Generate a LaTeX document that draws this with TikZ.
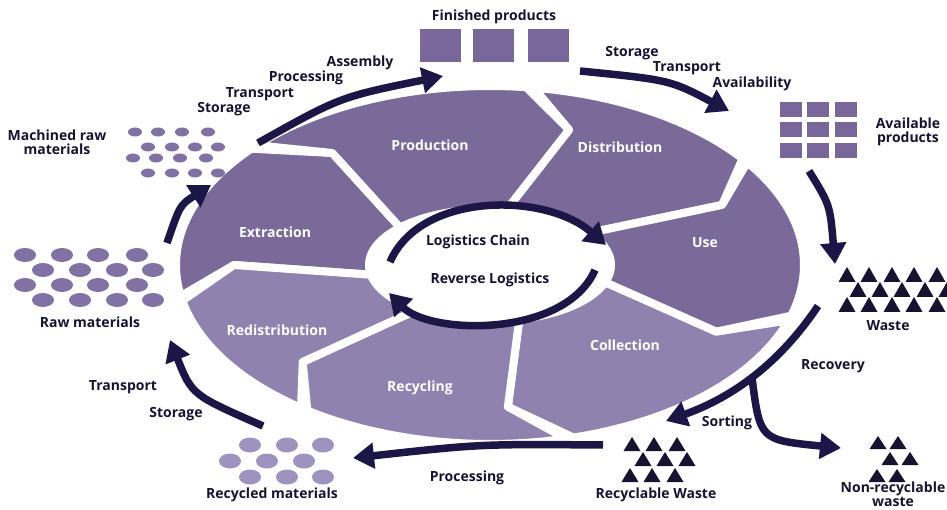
\documentclass[tikz,border=0pt]{standalone}
\usepackage{fontspec}
\setmainfont{Open Sans}
\usepackage{tikz}
\usetikzlibrary{arrows.meta}

\definecolor{segdark}{RGB}{122,106,154}
\definecolor{seglight}{RGB}{143,130,174}
\definecolor{navy}{RGB}{27,22,70}
\definecolor{ink}{RGB}{22,18,48}
\definecolor{boxpurple}{RGB}{120,103,152}
\definecolor{dotpurple}{RGB}{130,114,163}
\definecolor{dotlight}{RGB}{157,147,190}

\tikzset{
  lbl/.style={font=\bfseries\fontsize{14}{14}\selectfont, text=ink, align=center, inner sep=0pt},
  seglbl/.style={lbl, text=white},
  flow/.style={draw=navy, line width=7.5pt, -{Triangle[length=21pt,width=25pt]}},
  declare function={ex(\rp,\tp)=490+(121+\rp*193)*cos(\tp); ey(\rp,\tp)=265+(56+\rp*123)*sin(\tp);}
}

\begin{document}
\begin{tikzpicture}[x=1pt,y=-1pt]
\useasboundingbox (0,0) rectangle (947,510);

% ring of seven arrows
\foreach \s/\e/\c in {170/222/segdark,222/278/segdark,278/325/segdark,325/378/segdark,378/436/seglight,436/487/seglight,487/530/seglight}
  \filldraw[fill=\c, draw=white, line width=8pt, line join=round]
    plot[domain=\s:\e, samples=40] ({ex(1,\x)},{ey(1,\x)})
    -- ({ex(1.14,\e-5)},{ey(1.14,\e-5)})
    -- ({ex(.7,\e+10)},{ey(.7,\e+10)})
    -- ({ex(0,\e)},{ey(0,\e)})
    -- plot[domain=\e:\s, samples=40] ({ex(0,\x)},{ey(0,\x)})
    -- ({ex(.7,\s+10)},{ey(.7,\s+10)}) -- cycle;

\node[seglbl] (extraction) at (275,232) {Extraction};
\node[seglbl] (production) at (430,145) {Production};
\node[seglbl] (distribution) at (620,147) {Distribution};
\node[seglbl] (use) at (705,243) {Use};
\node[seglbl] (collection) at (625,345) {Collection};
\node[seglbl] (recycling) at (420,388) {Recycling};
\node[seglbl] (redistribution) at (277,330) {Redistribution};

% centre
\node[lbl] (chain) at (478,242) {Logistics Chain};
\node[lbl] (reverse) at (490,280) {Reverse Logistics};
\coordinate (ch1) at (390,262);
\coordinate (ch2) at (606,245);
\coordinate (rv1) at (595,270);
\coordinate (rv2) at (389,293);
\draw[flow] (ch1) .. controls (420,192) and (545,192) .. (ch2);
\draw[flow] (rv1) .. controls (565,338) and (430,335) .. (rv2);

% finished products
\foreach \x in {420,473,528}
  \fill[boxpurple] (\x,29) rectangle (\x+41,62);
\node[lbl] (finished) at (494,17) {Finished products};

% available products
\foreach \x in {780,807,835}
  \foreach \y in {102,122,143}
    \fill[boxpurple] (\x,\y) rectangle (\x+22,\y+15);
\node[lbl] (available) at (908,132) {Available\\products};

% machined raw materials
\foreach \x in {135,158,182,208} {
  \fill[dotpurple] (\x,132) ellipse (7 and 4.5);
  \fill[dotpurple] (\x-2,158) ellipse (7 and 4.5);
}
\foreach \x in {148,172,195,218} {
  \fill[dotpurple] (\x,147) ellipse (7 and 4.5);
  \fill[dotpurple] (\x,173) ellipse (7 and 4.5);
}
\node[lbl] (machined) at (57,142) {Machined raw\\materials};

% raw materials
\foreach \x in {25,62,98,137} {
  \fill[dotpurple] (\x,255) ellipse (11 and 7);
  \fill[dotpurple] (\x,285) ellipse (11 and 7);
}
\foreach \x in {43,80,117,153} {
  \fill[dotpurple] (\x,270) ellipse (11 and 7);
  \fill[dotpurple] (\x,300) ellipse (11 and 7);
}
\node[lbl] (raw) at (90,322) {Raw materials};

% recycled materials
\foreach \x in {250,287,323} {
  \fill[dotlight] (\x,445) ellipse (11 and 7.5);
  \fill[dotlight] (\x,477) ellipse (11 and 7.5);
}
\foreach \x in {230,267,304}
  \fill[dotlight] (\x,461) ellipse (11 and 7.5);
\node[lbl] (recycled) at (272,495) {Recycled materials};

% waste
\foreach \x in {847,869,892,914,937} {
  \fill[ink] (\x-8.5,282) -- (\x+8.5,282) -- (\x,267) -- cycle;
  \fill[ink] (\x-8.5,312) -- (\x+8.5,312) -- (\x,297) -- cycle;
}
\foreach \x in {858,880,902,925,947}
  \fill[ink] (\x-8.5,297) -- (\x+8.5,297) -- (\x,282) -- cycle;
\node[lbl] (waste) at (888,326) {Waste};

% recyclable waste
\foreach \x in {632,654,677}
  \fill[ink] (\x-8.5,451) -- (\x+8.5,451) -- (\x,437) -- cycle;
\foreach \x in {643,665,687}
  \fill[ink] (\x-8.5,466) -- (\x+8.5,466) -- (\x,452) -- cycle;
\foreach \x in {630,652,675}
  \fill[ink] (\x-8.5,482) -- (\x+8.5,482) -- (\x,468) -- cycle;
\node[lbl] (recyclable) at (656,495) {Recyclable Waste};

% non-recyclable waste
\foreach \x in {878,898}
  \fill[ink] (\x-8.5,449) -- (\x+8.5,449) -- (\x,436) -- cycle;
\foreach \x in {890,910}
  \fill[ink] (\x-8.5,465) -- (\x+8.5,465) -- (\x,452) -- cycle;
\foreach \x in {877,897}
  \fill[ink] (\x-8.5,482) -- (\x+8.5,482) -- (\x,469) -- cycle;
\node[lbl] (nonrecyclable) at (893,494) {Non-recyclable\\waste};

% outer flows
\coordinate (sup1) at (258,143);
\coordinate (sup2) at (443,76);
\draw[flow] (sup1) .. controls (340,97) .. (sup2);
\node[lbl] (assembly) at (360,63) {Assembly};
\node[lbl] (processing1) at (306,78) {Processing};
\node[lbl] (transport1) at (260,94) {Transport};
\node[lbl] (storage1) at (224,109) {Storage};

\coordinate (dis1) at (580,71);
\coordinate (dis2) at (729,111);
\draw[flow] (dis1) .. controls (670,80) .. (dis2);
\node[lbl] (storage2) at (632,53) {Storage};
\node[lbl] (transport2) at (687,68) {Transport};
\node[lbl] (availability) at (752,84) {Availability};

\coordinate (use1) at (809,171);
\coordinate (use2) at (835,264);
\draw[flow] (use1) .. controls (830,205) .. (use2);

\coordinate (rec1) at (818,306);
\coordinate (sort2) at (666,421);
\coordinate (junc) at (752,378);
\coordinate (non2) at (841,448);
\draw[flow] (rec1) .. controls (775,370) and (725,400) .. (sort2);
\draw[flow] (junc) .. controls (760,440) .. (non2);
\node[lbl] (recovery) at (833,366) {Recovery};
\node[lbl] (sorting) at (727,423) {Sorting};

\coordinate (pro1) at (603,445);
\coordinate (pro2) at (353,458);
\draw[flow] (pro1) .. controls (480,444) .. (pro2);
\node[lbl] (processing2) at (467,478) {Processing};

\coordinate (red1) at (263,426);
\coordinate (red2) at (170,340);
\draw[flow] (red1) .. controls (192,395) .. (red2);
\node[lbl] (transport3) at (123,387) {Transport};
\node[lbl] (storage3) at (176,414) {Storage};

\coordinate (ext1) at (167,243);
\coordinate (ext2) at (211,185);
\draw[flow] (ext1) .. controls (180,205) .. (ext2);

\end{tikzpicture}
\end{document}
